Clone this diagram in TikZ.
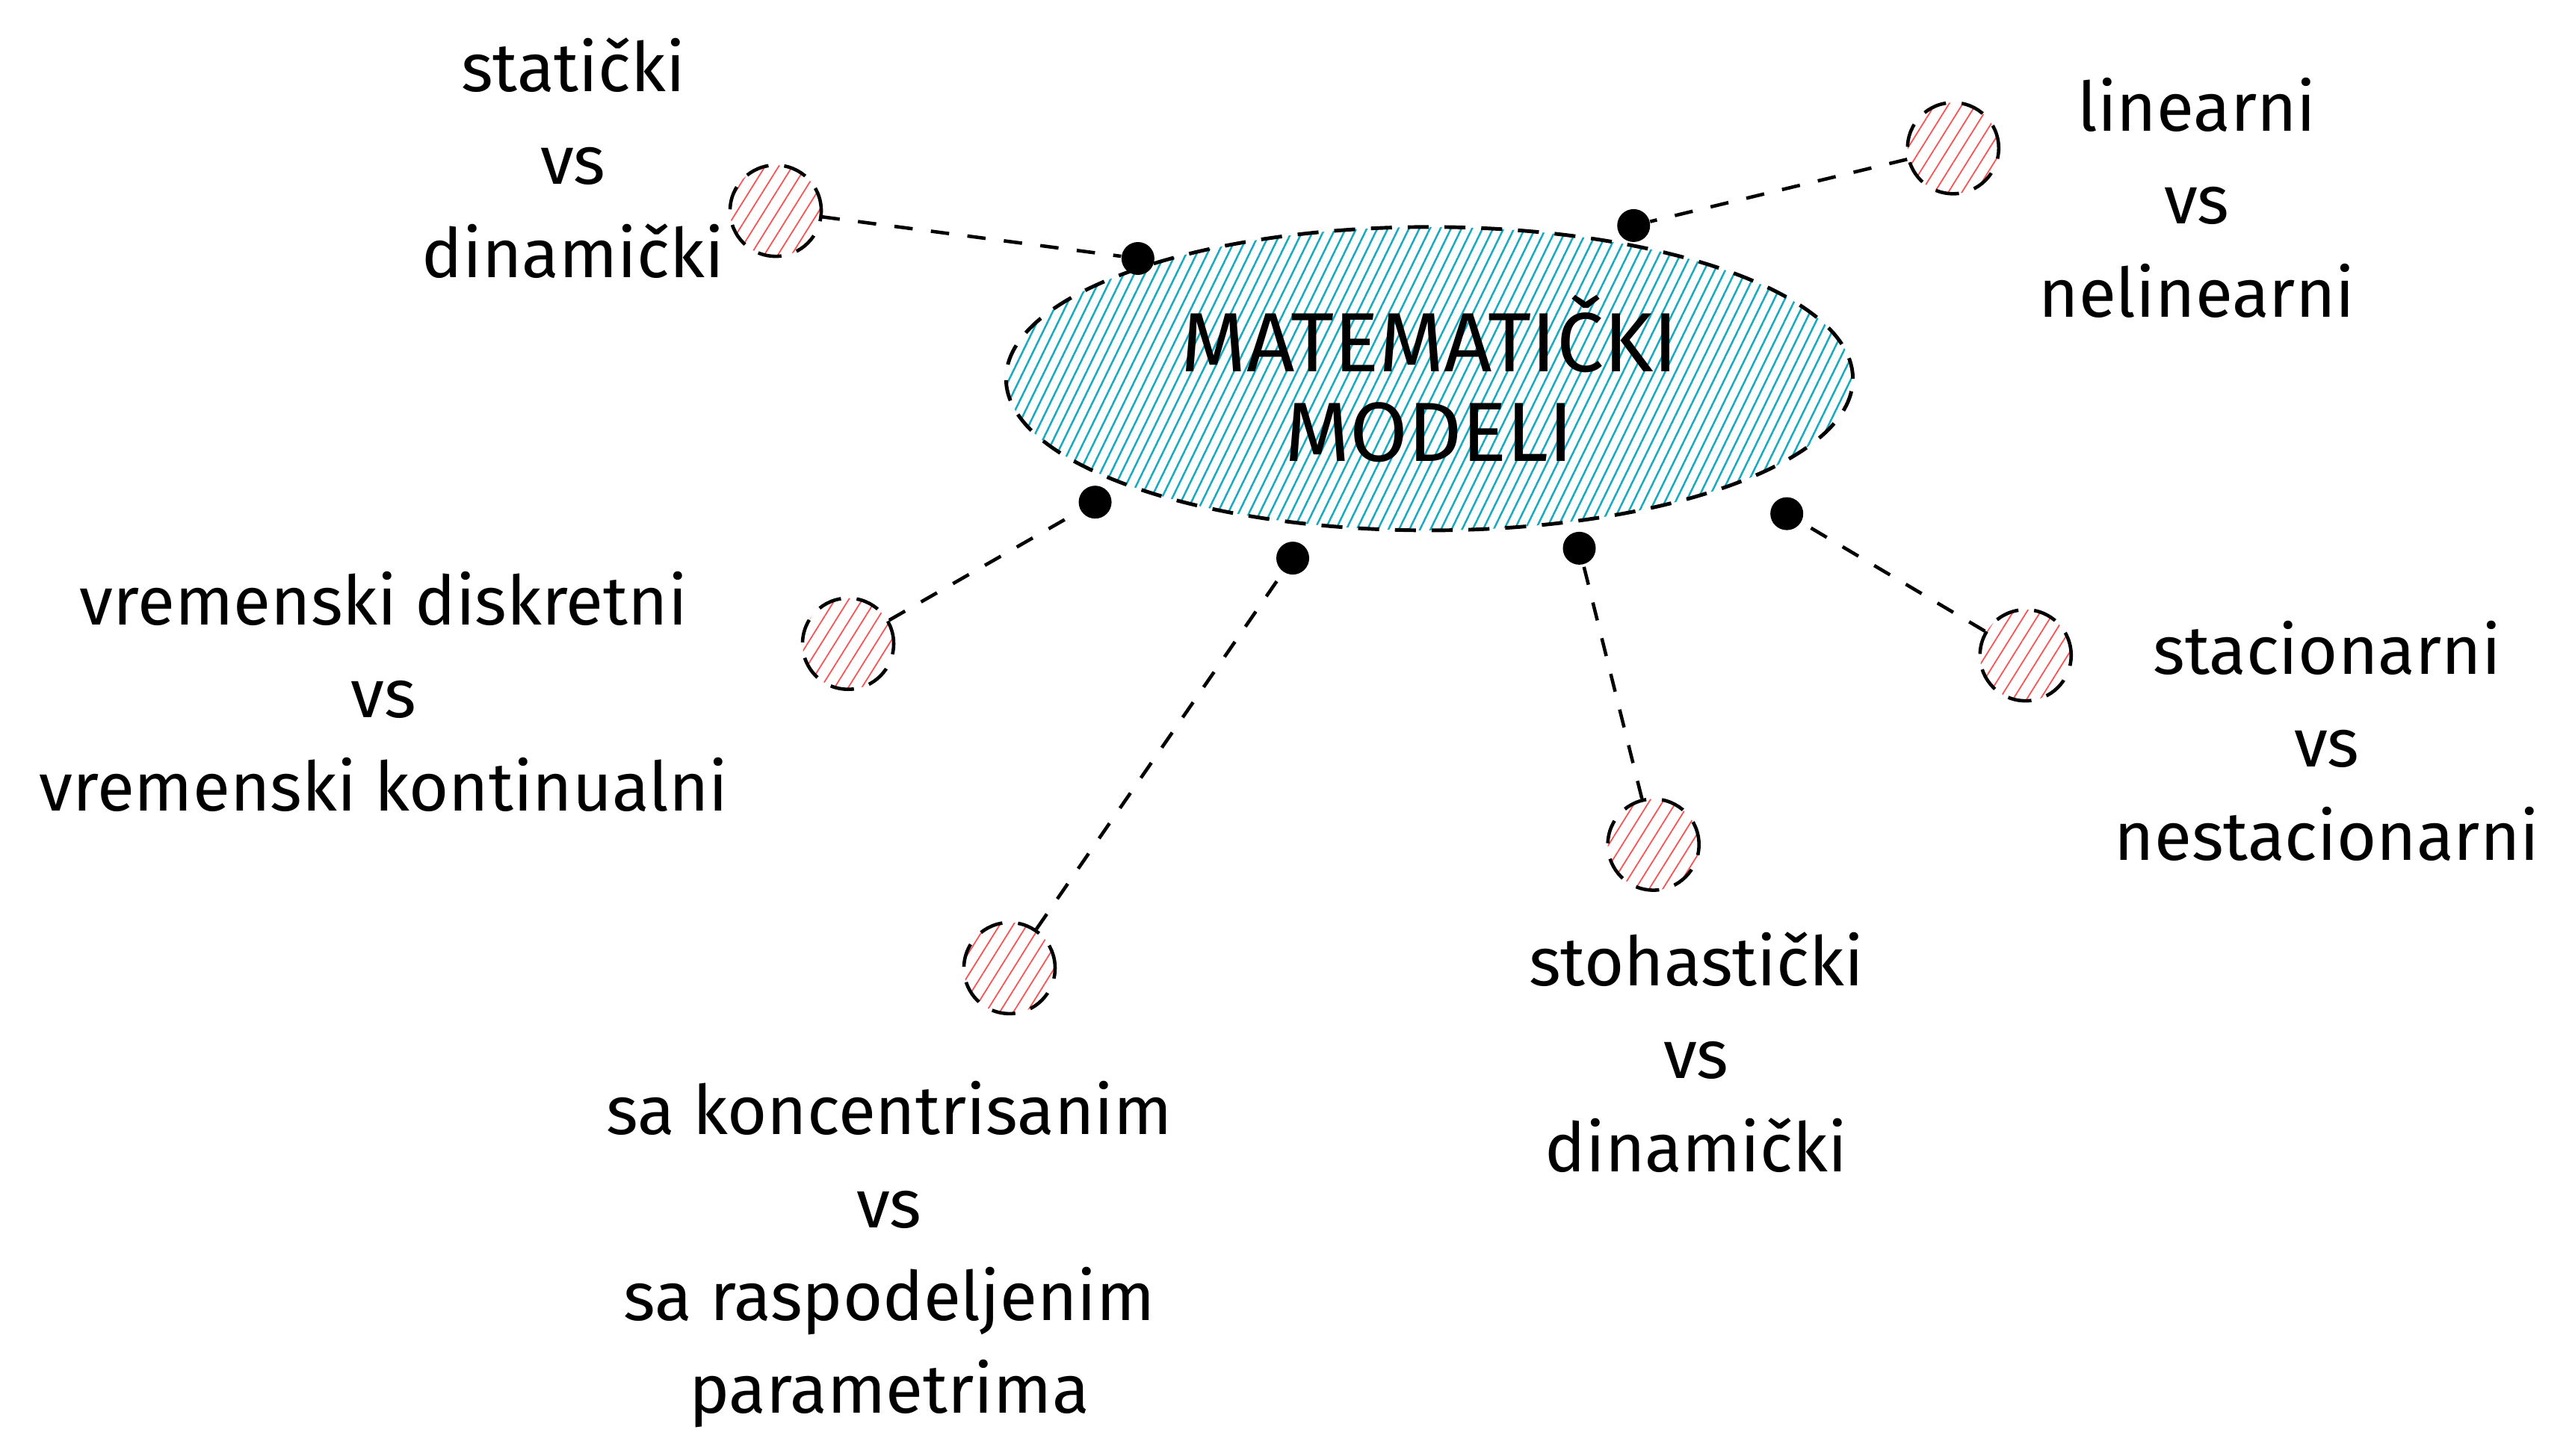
\documentclass[tikz,border=0pt]{standalone}
\usepackage{fontspec}
\setmainfont{Fira Sans}
\usetikzlibrary{shapes.geometric,patterns.meta}
\definecolor{hatchcyan}{HTML}{15AABF}
\definecolor{hatchred}{HTML}{FA5252}

\tikzset{
    topic/.style={ellipse, draw, line width=1.4pt, dash pattern=on 8pt off 6pt,
        minimum width=11.33cm, minimum height=4.06cm, inner sep=0pt,
        pattern={Lines[angle=64,distance=3.6pt,line width=0.7pt]}, pattern color=hatchcyan,
        align=center, font=\fontsize{32}{34}\selectfont},
    leaf/.style={circle, draw, line width=1.3pt, dash pattern=on 9pt off 6pt,
        minimum size=1.22cm, inner sep=0pt,
        pattern={Lines[angle=58,distance=4.4pt,line width=0.5pt]}, pattern color=hatchred},
    knot/.style={circle, fill=black, minimum size=0.44cm, inner sep=0pt},
    kind/.style={align=center, font=\fontsize{26}{35.4}\selectfont},
    link/.style={line width=1.3pt, dash pattern=on 7pt off 7pt},
}

\begin{document}
\begin{tikzpicture}[x=0.02204cm, y=-0.02204cm]
    \useasboundingbox (0,0) rectangle (1560,884.3);
    % center:
    \node[topic] (mm) at (868,230) {MATEMATIČKI\\MODELI};
    % circles:
    \node[leaf] (c1) at (471,128) {};
    \node[leaf] (c2) at (1186,90) {};
    \node[leaf] (c3) at (515,391) {};
    \node[leaf] (c4) at (613,588) {};
    \node[leaf] (c5) at (1004,513) {};
    \node[leaf] (c6) at (1230,398) {};
    % points:
    \node[knot] (d1) at (691,157) {};
    \node[knot] (d2) at (992,137) {};
    \node[knot] (d3) at (665,305) {};
    \node[knot] (d4) at (785,339) {};
    \node[knot] (d5) at (959,333) {};
    \node[knot] (d6) at (1085,312) {};
    % lines:
    \draw[link] (c1) -- (d1);
    \draw[link] (c2) -- (d2);
    \draw[link] (c3) -- (d3);
    \draw[link] (c4) -- (d4);
    \draw[link] (c5) -- (d5);
    \draw[link] (c6) -- (d6);
    % texts:
    \node[kind] (t1) at (348,96) {statički\\vs\\dinamički};
    \node[kind] (t2) at (1334,120) {linearni\\vs\\nelinearni};
    \node[kind] (t3) at (233,420) {vremenski diskretni\\vs\\vremenski kontinualni};
    \node[kind] (t4) at (540,762) {sa koncentrisanim\\vs\\sa raspodeljenim\\parametrima};
    \node[kind] (t5) at (1030,639) {stohastički\\vs\\dinamički};
    \node[kind] (t6) at (1413,450) {stacionarni\\vs\\nestacionarni};
\end{tikzpicture}
\end{document}
